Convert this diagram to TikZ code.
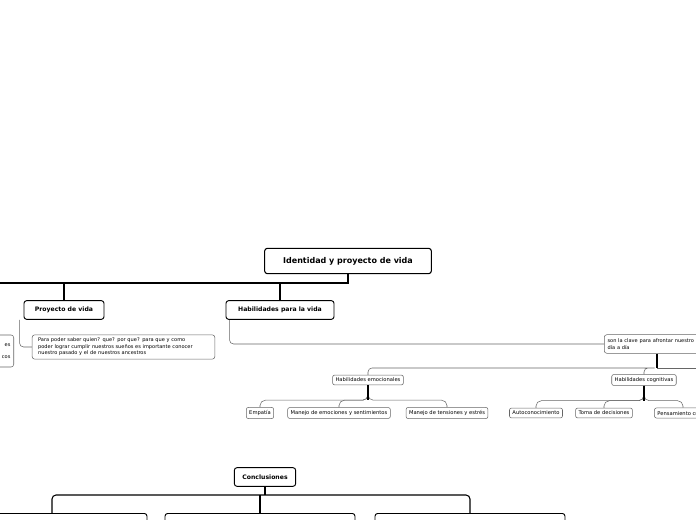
\documentclass[tikz,border=0pt]{standalone}
\usepackage{fontspec}
\setmainfont{DejaVu Sans}
\usetikzlibrary{positioning}
\tikzset{
  topic/.style={draw, rounded corners=2pt, line width=0.8pt, font=\bfseries\fontsize{6}{7}\selectfont, inner sep=4pt},
  subtopic/.style={draw, rounded corners=2pt, line width=0.7pt, font=\bfseries\fontsize{4.6}{5.5}\selectfont, minimum height=14pt, inner sep=3pt},
  note/.style={draw=black!60, rounded corners=2pt, line width=0.4pt, font=\fontsize{3.8}{4.8}\selectfont, align=left, inner sep=2.5pt},
  leaf/.style={draw=black!60, rounded corners=1.5pt, line width=0.4pt, font=\fontsize{3.9}{4.7}\selectfont, inner sep=2.2pt},
  link/.style={line width=0.8pt},
  thin link/.style={draw=black!60, line width=0.4pt}
}
\begin{document}
\begin{tikzpicture}[x=0.75pt, y=-0.75pt]
\useasboundingbox (0,0) rectangle (696,520);

% === Main topic ===
\node[topic, minimum width=125pt, minimum height=19pt] (Main) at (348,261) {Identidad y proyecto de vida};

% === First level ===
\node[subtopic, minimum width=60pt] (Proyecto) at (64,310) {Proyecto de vida};
\node[subtopic, minimum width=81pt] (Habilidades) at (280,310) {Habilidades para la vida};
\coordinate (Bar-left) at (0,283);
\draw[link] (Main.south) |- (Bar-left);
\draw[link] (Proyecto.north) -- (Proyecto.north |- Bar-left);
\draw[link] (Habilidades.north) -- (Habilidades.north |- Bar-left);

% === Notes ===
\node[note, minimum width=137pt, minimum height=18pt, text width=128pt] (ProyectoNote) at (123.5,347)
  {Para poder saber quien? que? por que? para que y como\\ poder lograr cumplir nuestros sueños es importante conocer\\ nuestro pasado y el de nuestros ancestros};
\draw[thin link, rounded corners=3pt] ([xshift=-3pt]Proyecto.south west) |- (ProyectoNote.west);
\node[note, anchor=west, minimum height=14pt, text width=80pt] (Clave) at (604,344)
  {son la clave para afrontar nuestro\\ día a día};
\draw[thin link, rounded corners=3pt] ([xshift=3pt]Habilidades.south west) |- (Clave.west);
\node[note, anchor=east, minimum height=24pt, text width=60pt, align=right] (Cut) at (14,351)
  {es\\[4pt]cos};

% === Second level ===
\node[leaf] (Emocionales) at (368,380) {Habilidades emocionales};
\node[leaf] (Cognitivas) at (644,380) {Habilidades cognitivas};
\coordinate (Bar-hab) at (657,368);
\draw[link] (Clave.south -| Bar-hab) -- (Bar-hab);
\draw[thin link, rounded corners=3pt] (Emocionales.north) |- (Bar-hab) -| (Cognitivas.north);
\draw[thin link, rounded corners=3pt] (Bar-hab) -- (700,368);

% === Leaves ===
\foreach \name/\x/\txt/\parent in {
  Empatia/260/Empatía/Emocionales,
  Emociones/339/Manejo de emociones y sentimientos/Emocionales,
  Tensiones/447/Manejo de tensiones y estrés/Emocionales,
  Auto/536/Autoconocimiento/Cognitivas,
  Decisiones/604/Toma de decisiones/Cognitivas,
  Critico/683/Pensamiento crítico/Cognitivas}{
  \node[leaf] (\name) at (\x,413) {\txt};
  \draw[thin link, rounded corners=4pt] (\parent.south) -- ++(0,15) -| (\name.north);
}
\draw[link] (Emocionales.south) -- ++(0,15);
\draw[link] (Cognitivas.south) -- ++(0,15);

% === Conclusions ===
\node[subtopic, minimum width=46pt] (Conclusiones) at (265,477) {Conclusiones};
\foreach \name/\x/\w in {ConA/52/190, ConB/260/190, ConC/470/190}{
  \node[draw, rounded corners=2pt, line width=0.7pt, minimum width=\w*0.75pt, minimum height=20pt, anchor=north] (\name) at (\x,513) {};
}
\coordinate (Bar-con) at (265,495);
\draw[link, rounded corners=3pt] (ConA.north) |- (Bar-con) -| (ConC.north);
\draw[link] (Conclusiones.south) -- (Bar-con);
\draw[link] (ConB.north) -- (ConB.north |- Bar-con);
\end{tikzpicture}
\end{document}
